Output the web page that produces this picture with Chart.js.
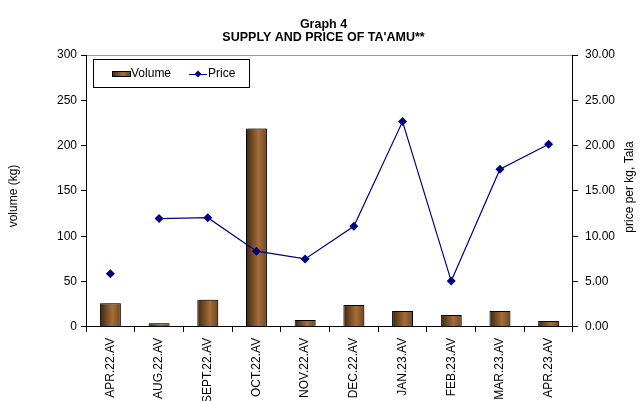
<!DOCTYPE html>
<html>
<head>
<meta charset="utf-8">
<script src="https://cdn.jsdelivr.net/npm/chart.js@4.4.1/dist/chart.umd.min.js"></script>
<style>
  html, body { margin: 0; padding: 0; background: #fff; overflow: hidden; }
  #wrap { width: 640px; height: 420px; }
</style>
</head>
<body>
<div id="wrap"><canvas id="taamuChart" width="640" height="420"></canvas></div>
<script>
// Graph 4 - supply and price of ta'amu
var months = ["APR.22.AV", "AUG.22.AV", "SEPT.22.AV", "OCT.22.AV", "NOV.22.AV",
              "DEC.22.AV", "JAN.23.AV", "FEB.23.AV", "MAR.23.AV", "APR.23.AV"];
var volumeKg = [26, 4, 30, 219, 7.5, 24, 17.5, 13, 17.5, 6.5];
var priceTala = [5.85, 11.95, 12.05, 8.35, 7.5, 11.1, 22.65, 5.05, 17.4, 20.15];
var volumeTicks = [0, 50, 100, 150, 200, 250, 300];
var priceTicks = [0, 5, 10, 15, 20, 25, 30];

var titleLines = ["Graph 4", "SUPPLY AND PRICE OF TA'AMU**"];
var leftTitle = "volume (kg)";
var rightTitle = "price per kg, Tala";

var FONT = "Arial, 'Liberation Sans', sans-serif";
var NAVY = "#000080";

function brownGradient(c, x0, x1) {
  var g = c.createLinearGradient(x0, 0, x1, 0);
  g.addColorStop(0, "#3e2610");
  g.addColorStop(0.6, "#a56e38");
  g.addColorStop(1, "#704822");
  return g;
}

function barFill(ctx) {
  var chart = ctx.chart;
  var x = chart.scales.x;
  if (!x || !x.width || ctx.type !== "data") return "#8a5a2c";
  var cx = x.getPixelForValue(ctx.dataIndex);
  var half = (x.width / months.length) * 0.21;
  return brownGradient(chart.ctx, cx - half, cx + half);
}

// bar shadow, titles and the boxed legend inside the plot
var decorPlugin = {
  id: "decor",
  beforeDatasetDraw: function (chart, args) {
    if (args.meta.type !== "bar") return;
    var c = chart.ctx;
    c.save();
    c.shadowColor = "rgba(0,0,0,0.28)";
    c.shadowOffsetX = 2;
    c.shadowOffsetY = -1;
    c.shadowBlur = 0;
  },
  afterDatasetDraw: function (chart, args) {
    if (args.meta.type !== "bar") return;
    chart.ctx.restore();
  },
  afterDraw: function (chart) {
    var c = chart.ctx;
    var ca = chart.chartArea;
    c.save();
    c.fillStyle = "#000";

    // chart title
    c.font = "bold 12.5px " + FONT;
    c.textAlign = "center";
    c.textBaseline = "alphabetic";
    c.fillText(titleLines[0], 323.5, 28);
    c.fillText(titleLines[1], 323.5, 40.5);

    // axis titles, both reading bottom to top
    c.font = "12px " + FONT;
    c.textBaseline = "middle";
    c.save();
    c.translate(14, 196);
    c.rotate(-Math.PI / 2);
    c.fillText(leftTitle, 0, 0);
    c.restore();
    c.save();
    c.translate(630, 187);
    c.rotate(-Math.PI / 2);
    c.fillText(rightTitle, 0, 0);
    c.restore();

    // legend box
    var lx = ca.left + 7, ly = ca.top + 4, lw = 156, lh = 28;
    c.fillStyle = "#fff";
    c.fillRect(lx, ly, lw, lh);
    c.strokeStyle = "#000";
    c.lineWidth = 1;
    c.strokeRect(lx + 0.5, ly + 0.5, lw, lh);
    var my = ly + 15;
    c.fillStyle = brownGradient(c, lx + 19, lx + 37);
    c.fillRect(lx + 19, my - 3, 18, 5);
    c.strokeRect(lx + 19.5, my - 2.5, 18, 5);
    c.fillStyle = "#000";
    c.textAlign = "left";
    c.fillText("Volume", lx + 38, my);
    c.strokeStyle = NAVY;
    c.beginPath();
    c.moveTo(lx + 96, my + 0.5);
    c.lineTo(lx + 114, my + 0.5);
    c.stroke();
    c.fillStyle = NAVY;
    c.beginPath();
    c.moveTo(lx + 105, my - 3.5);
    c.lineTo(lx + 108.5, my);
    c.lineTo(lx + 105, my + 3.5);
    c.lineTo(lx + 101.5, my);
    c.closePath();
    c.fill();
    c.fillStyle = "#000";
    c.fillText("Price", lx + 115, my);
    c.restore();
  }
};

var chart = new Chart(document.getElementById("taamuChart").getContext("2d"), {
  data: {
    labels: months,
    datasets: [
      {
        type: "line",
        label: "Price",
        data: priceTala,
        yAxisID: "yPrice",
        order: 0,
        borderColor: NAVY,
        borderWidth: 1.2,
        backgroundColor: NAVY,
        pointStyle: "rectRot",
        pointRadius: 4.5,
        pointBorderWidth: 0,
        pointBackgroundColor: NAVY,
        tension: 0,
        segment: {
          // the first month is not joined to the rest
          borderColor: function (s) { return s.p0DataIndex === 0 ? "transparent" : NAVY; }
        }
      },
      {
        type: "bar",
        label: "Volume",
        data: volumeKg,
        yAxisID: "yVol",
        order: 1,
        backgroundColor: barFill,
        borderColor: "#000",
        borderWidth: 1,
        categoryPercentage: 1,
        barPercentage: 0.43
      }
    ]
  },
  options: {
    responsive: false,
    devicePixelRatio: 1,
    animation: false,
    layout: { padding: { top: 55, left: 53, right: 18, bottom: 11 } },
    plugins: {
      legend: { display: false },
      title: { display: false },
      tooltip: { enabled: false }
    },
    scales: {
      x: {
        offset: true,
        border: { display: true, color: "#000", width: 1 },
        grid: { offset: true, drawOnChartArea: false, drawTicks: true, tickLength: 5, color: "#000", tickColor: "#000" },
        ticks: { color: "#000", font: { family: FONT, size: 12 }, minRotation: 90, maxRotation: 90, padding: 6, autoSkip: false }
      },
      yVol: {
        position: "left",
        min: volumeTicks[0],
        max: volumeTicks[volumeTicks.length - 1],
        afterBuildTicks: function (axis) {
          axis.ticks = volumeTicks.map(function (v) { return { value: v }; });
        },
        border: { display: true, color: "#000", width: 1 },
        grid: {
          drawTicks: true,
          tickLength: 5,
          tickColor: "#000",
          color: function (ctx) {
            return ctx.tick && ctx.tick.value === volumeTicks[volumeTicks.length - 1] ? "#9a9a9a" : "transparent";
          }
        },
        ticks: { color: "#000", font: { family: FONT, size: 12 }, padding: 4 }
      },
      yPrice: {
        position: "right",
        min: priceTicks[0],
        max: priceTicks[priceTicks.length - 1],
        afterBuildTicks: function (axis) {
          axis.ticks = priceTicks.map(function (v) { return { value: v }; });
        },
        border: { display: true, color: "#000", width: 1 },
        grid: { drawOnChartArea: false, drawTicks: true, tickLength: 5, tickColor: "#000" },
        ticks: {
          color: "#000",
          font: { family: FONT, size: 12 },
          padding: 7,
          callback: function (v) { return Number(v).toFixed(2); }
        }
      }
    }
  },
  plugins: [decorPlugin]
});
</script>
</body>
</html>
